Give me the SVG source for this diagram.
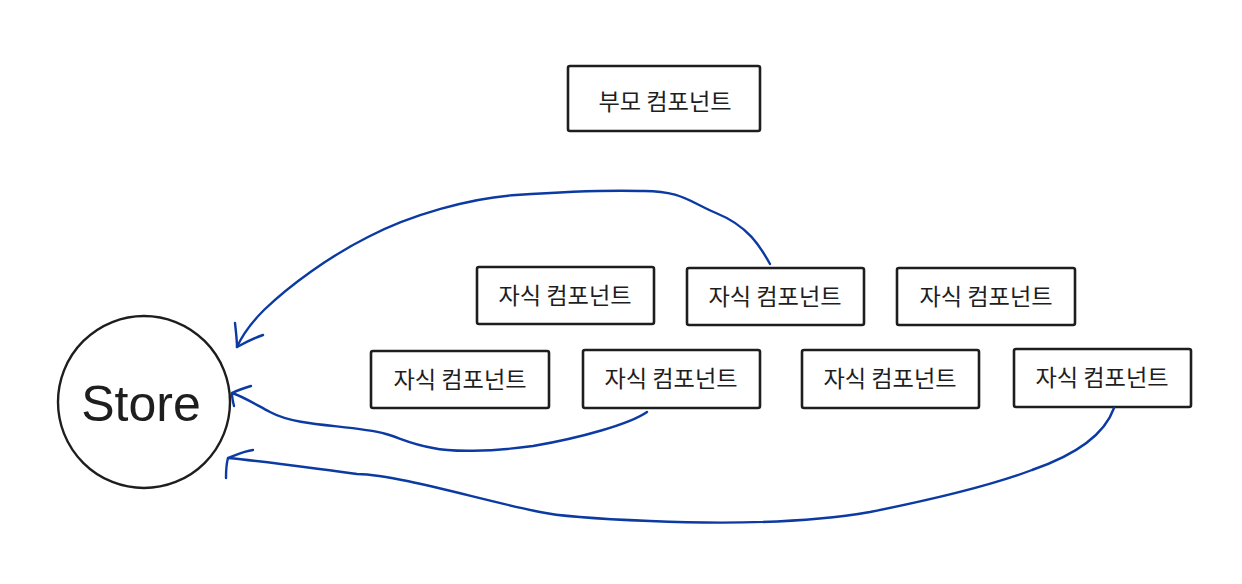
<svg xmlns="http://www.w3.org/2000/svg" width="1242" height="584" viewBox="0 0 1242 584">
<defs>
<style>
.box{fill:#ffffff;stroke:#1e1e1e;stroke-width:2.6;}
.lbl{font-family:"Noto Sans CJK KR","Noto Sans",sans-serif;font-size:23.2px;fill:#1e1e1e;text-anchor:middle;dominant-baseline:central;}
.edge{fill:none;stroke:#0b3aa2;stroke-width:2.4;stroke-linecap:round;stroke-linejoin:round;}
</style>
</defs>
<rect width="1242" height="584" fill="#ffffff"/>
<g id="store">
<circle cx="144" cy="402" r="86" fill="#ffffff" stroke="#1e1e1e" stroke-width="2.4"/>
<text x="141" y="404" font-family="'Liberation Sans',sans-serif" font-size="50" fill="#1e1e1e" text-anchor="middle" dominant-baseline="central">Store</text>
</g>
<g id="parent">
<rect class="box" x="568" y="66" width="192" height="65" rx="2"/>
<text class="lbl" x="665" y="100">부모 컴포넌트</text>
</g>
<g id="child1">
<rect class="box" x="477" y="267" width="177" height="57" rx="2"/>
<text class="lbl" x="565" y="294">자식 컴포넌트</text>
</g>
<g id="child2">
<rect class="box" x="687" y="268" width="177" height="57" rx="2"/>
<text class="lbl" x="775" y="295">자식 컴포넌트</text>
</g>
<g id="child3">
<rect class="box" x="897" y="268" width="178" height="57" rx="2"/>
<text class="lbl" x="986" y="295">자식 컴포넌트</text>
</g>
<g id="child4">
<rect class="box" x="371" y="351" width="178" height="57" rx="2"/>
<text class="lbl" x="460" y="378">자식 컴포넌트</text>
</g>
<g id="child5">
<rect class="box" x="583" y="350" width="177" height="58" rx="2"/>
<text class="lbl" x="671" y="377">자식 컴포넌트</text>
</g>
<g id="child6">
<rect class="box" x="802" y="350" width="177" height="58" rx="2"/>
<text class="lbl" x="890" y="377">자식 컴포넌트</text>
</g>
<g id="child7">
<rect class="box" x="1014" y="349" width="177" height="58" rx="2"/>
<text class="lbl" x="1102" y="376">자식 컴포넌트</text>
</g>
<g id="connectors">
<path class="edge" d="M770,264 C760,246 748,226 716,213 C690,202 680,190 640,191 C600,190 560,192 516,195 C470,198 410,215 368,237 C330,256 290,285 264,310 C250,324 242,336 237,347"/>
<path class="edge" d="M235,323 C236,332 237,340 237,347 C246,342 254,338 263,335"/>
<path class="edge" d="M647,412 C630,424 580,438 533,446 C490,452 450,452 433,448 C410,444 400,438 386,434 C350,424 300,428 270,412 C255,404 242,396 232,393"/>
<path class="edge" d="M251,386 C244,388 238,390 232,393 C232,397 233,402 234,406"/>
<path class="edge" d="M1114,408 C1108,425 1090,450 1032,470 C990,486 930,500 870,512 C800,524 720,524 650,521 C600,519 562,517 540,512 C480,500 400,475 357,474 C310,468 270,462 228,458"/>
<path class="edge" d="M253,450 C244,451 236,455 228,458 C226,465 226,472 226,478"/>
</g>
</svg>
